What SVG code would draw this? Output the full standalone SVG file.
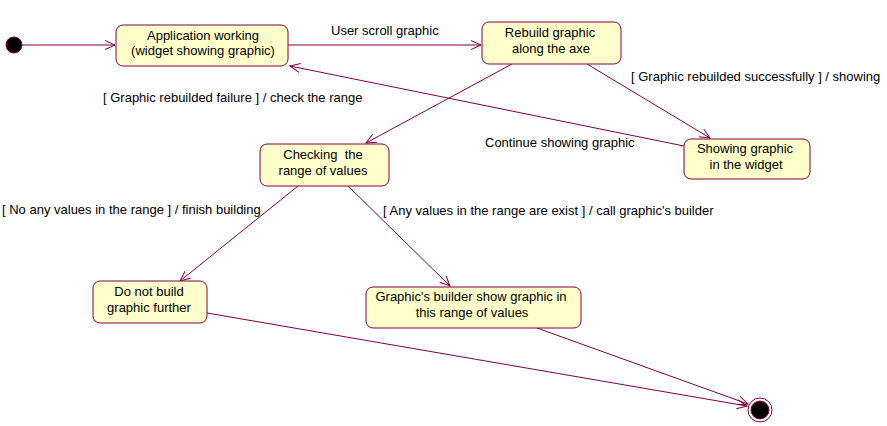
<svg xmlns="http://www.w3.org/2000/svg" width="887" height="426" viewBox="0 0 887 426">
<style>
.node rect{fill:#FFFFCC;stroke:#800040;stroke-width:1}
text{font-family:"Liberation Sans",Arial,sans-serif;font-size:13px;fill:#000}
.node text{text-anchor:middle}
.conn line{stroke:#800040;stroke-width:1;fill:none}
</style>
<defs>
<marker id="arr" markerUnits="userSpaceOnUse" markerWidth="14" markerHeight="12" refX="11" refY="5" orient="auto">
<path d="M1,0.5 L11,5 L1,9.5" fill="none" stroke="#800040" stroke-width="1"/>
</marker>
</defs>
<rect width="887" height="426" fill="#fff"/>
<g id="connectors" class="conn">
<line x1="22" y1="45" x2="115" y2="45" marker-end="url(#arr)"/>
<line x1="288" y1="45" x2="481" y2="45" marker-end="url(#arr)"/>
<line x1="587" y1="64" x2="710" y2="138" marker-end="url(#arr)"/>
<line x1="684" y1="146" x2="290" y2="66" marker-end="url(#arr)"/>
<line x1="512" y1="64" x2="366" y2="143" marker-end="url(#arr)"/>
<line x1="298" y1="186" x2="180" y2="281" marker-end="url(#arr)"/>
<line x1="348" y1="186" x2="450" y2="286" marker-end="url(#arr)"/>
<line x1="207" y1="313" x2="747" y2="406" marker-end="url(#arr)"/>
<line x1="537" y1="328" x2="748" y2="404" marker-end="url(#arr)"/>
</g>
<g id="labels">
<text x="331" y="35">User scroll graphic</text>
<text x="631" y="81">[ Graphic rebuilded successfully ] / showing</text>
<text x="103" y="102">[ Graphic rebuilded failure ] / check the range</text>
<text x="485" y="147">Continue showing graphic</text>
<text x="2" y="214">[ No any values in the range ] / finish building</text>
<text x="383" y="215">[ Any values in the range are exist ]  / call graphic's builder</text>
</g>
<g id="initial">
<circle cx="14" cy="45" r="8" fill="#000" stroke="#800040"/>
</g>
<g id="app" class="node">
<rect x="116" y="25" width="172" height="41" rx="7"/>
<text x="203" y="40">Application working</text>
<text x="203" y="55">(widget showing graphic)</text>
</g>
<g id="rebuild" class="node">
<rect x="482" y="22" width="139" height="42" rx="7"/>
<text x="550" y="37">Rebuild graphic</text>
<text x="551" y="53">along the axe</text>
</g>
<g id="showing" class="node">
<rect x="684" y="139" width="126" height="40" rx="7"/>
<text x="745" y="153">Showing graphic</text>
<text x="746" y="169">in the widget</text>
</g>
<g id="checking" class="node">
<rect x="260" y="144" width="129" height="42" rx="7"/>
<text x="323" y="159" xml:space="preserve">Checking  the</text>
<text x="323" y="175">range of values</text>
</g>
<g id="donot" class="node">
<rect x="93" y="281" width="114" height="42" rx="7"/>
<text x="149" y="296">Do not  build</text>
<text x="149" y="312">graphic further</text>
</g>
<g id="builder" class="node">
<rect x="366" y="287" width="215" height="41" rx="7"/>
<text x="471" y="301">Graphic's builder show graphic in</text>
<text x="472" y="317">this range of values</text>
</g>
<g id="final">
<circle cx="760" cy="410" r="12" fill="#fff" stroke="#800040"/>
<circle cx="760" cy="410" r="9" fill="#000" stroke="#800040"/>
</g>
</svg>
